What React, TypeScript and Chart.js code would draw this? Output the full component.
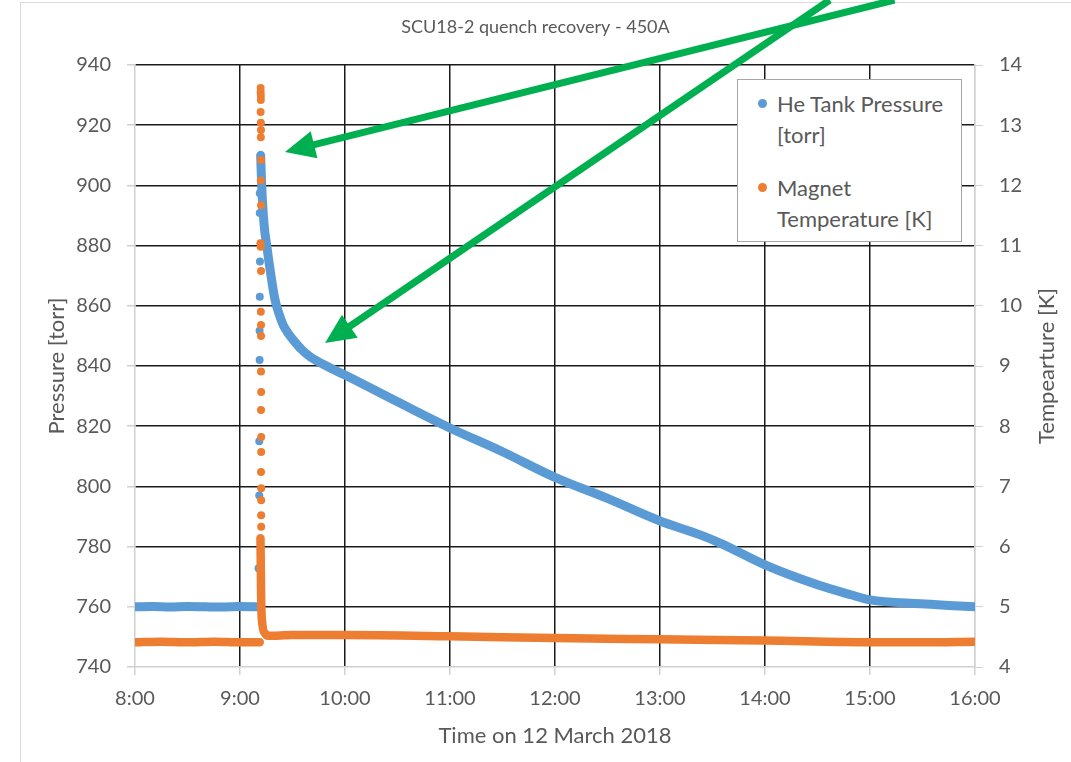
import React, { useEffect, useRef } from "react";
import { Chart, registerables } from "chart.js";

Chart.register(...registerables);

// ---- Data (time in minutes after 8:00) ----
const xTickMinutes = [0, 60, 120, 180, 240, 300, 360, 420, 480];
const xTickLabels = ["8:00", "9:00", "10:00", "11:00", "12:00", "13:00", "14:00", "15:00", "16:00"];

// He tank pressure continuous trace (null = gap between baseline and decay)
const pressureTraceTime = [0, 10, 20, 30, 40, 50, 60, 70.3, 71, 71.8, 72.4, 73.7, 75.3, 77.5, 80, 82.5, 84.7, 87.5, 90.5, 95, 100, 110, 120, 150, 180, 210, 240, 270, 300, 323, 335, 360, 390, 409, 420, 449, 471, 480];
const pressureTraceValue = [760, 760.1, 759.9, 760.1, 760, 759.9, 760.1, 760, null, 910, 900, 887.4, 879.9, 870.8, 862, 857, 853.6, 850.9, 848.6, 845.6, 843.1, 839.8, 837, 828.1, 819.4, 811.5, 803, 796, 788.5, 783.9, 781, 773.9, 767.3, 764, 762.3, 761, 760.3, 760];

// He tank pressure sparse points during the quench rise
const pressureSpikeTime = [70.6, 71.0, 71.0, 71.2, 71.2, 71.3, 71.4, 71.3, 71.3];
const pressureSpikeValue = [772.8, 797, 815, 842, 851.7, 863, 874.7, 890.8, 897.4];

// Magnet temperature continuous trace
const tempTraceTime = [0, 15, 30, 45, 60, 71.3, 71.5, 71.7, 72.1, 72.7, 74.5, 76, 90, 120, 180, 240, 300, 360, 420, 450, 480];
const tempTraceValue = [4.41, 4.42, 4.41, 4.42, 4.41, 4.41, null, 6.14, 5.11, 4.73, 4.55, 4.52, 4.53, 4.53, 4.51, 4.48, 4.46, 4.44, 4.41, 4.41, 4.42];

// Magnet temperature sparse points during the quench
const tempSpikeTime = [71.8, 71.8, 71.9, 71.9, 71.8, 71.9, 72.0, 71.9, 72.0, 71.9, 72.0, 71.7, 71.8, 72.0, 71.9, 72.0, 72.0, 72.0, 72.1, 72.0, 72.1, 72.1, 72.0, 72.1, 72.1, 72.1, 72.1];
const tempSpikeValue = [13.62, 13.55, 13.49, 13.42, 13.22, 13.04, 12.92, 12.8, 12.42, 12.08, 11.67, 11.04, 10.98, 10.58, 9.9, 9.68, 9.5, 8.91, 8.57, 8.27, 7.82, 7.57, 7.24, 6.97, 6.77, 6.52, 6.33];

// Green annotation arrows (data coordinates: minutes, torr)
const arrowTailTime = [434, 397];
const arrowTailPressure = [961.6, 961.6];
const arrowTipTime = [85.7, 108.6];
const arrowTipPressure = [911.1, 847.6];

const rightAxisTitle = "Tempearture [K]";

const BLUE = "#5B9BD5";
const ORANGE = "#ED7D31";
const TEXT = "#595959";
const FONT = "Lato";

const toXY = (t: number[], v: (number | null)[]) => t.map((x, i) => ({ x, y: v[i] }));

const arrowPlugin = {
  id: "arrows",
  afterDatasetsDraw(chart: any) {
    const { ctx, scales } = chart;
    const xs = scales.x;
    const ys = scales.y;
    ctx.save();
    ctx.strokeStyle = "#00B050";
    ctx.fillStyle = "#00B050";
    ctx.lineWidth = 7;
    for (let i = 0; i < arrowTipTime.length; i++) {
      const x0 = xs.getPixelForValue(arrowTailTime[i]);
      const y0 = ys.getPixelForValue(arrowTailPressure[i]);
      const x1 = xs.getPixelForValue(arrowTipTime[i]);
      const y1 = ys.getPixelForValue(arrowTipPressure[i]);
      const dx = x1 - x0;
      const dy = y1 - y0;
      const len = Math.hypot(dx, dy);
      const ux = dx / len;
      const uy = dy / len;
      const headLen = 30;
      const headHalf = 14;
      const bx = x1 - ux * headLen;
      const by = y1 - uy * headLen;
      ctx.beginPath();
      ctx.moveTo(x0, y0);
      ctx.lineTo(bx + ux * 4, by + uy * 4);
      ctx.stroke();
      ctx.beginPath();
      ctx.moveTo(x1, y1);
      ctx.lineTo(bx - uy * headHalf, by + ux * headHalf);
      ctx.lineTo(bx + uy * headHalf, by - ux * headHalf);
      ctx.closePath();
      ctx.fill();
    }
    ctx.restore();
  },
};

// Right axis title reads bottom-to-top like the left one
const rightTitlePlugin = {
  id: "rightTitle",
  afterDraw(chart: any) {
    const { ctx, chartArea } = chart;
    ctx.save();
    ctx.translate(chart.width - 24, (chartArea.top + chartArea.bottom) / 2);
    ctx.rotate(-Math.PI / 2);
    ctx.font = `22px ${FONT}`;
    ctx.fillStyle = TEXT;
    ctx.textAlign = "center";
    ctx.textBaseline = "middle";
    ctx.fillText(rightAxisTitle, 0, 0);
    ctx.restore();
  },
};

export default function App() {
  const canvasRef = useRef<HTMLCanvasElement | null>(null);

  useEffect(() => {
    if (!canvasRef.current) return;
    Chart.defaults.font.family = FONT;
    const chart = new Chart(canvasRef.current, {
      type: "scatter",
      data: {
        datasets: [
          {
            label: "Magnet Temperature [K]",
            data: toXY(tempTraceTime, tempTraceValue),
            yAxisID: "y2",
            showLine: true,
            spanGaps: false,
            borderColor: ORANGE,
            backgroundColor: ORANGE,
            borderWidth: 8.5,
            borderCapStyle: "round",
            borderJoinStyle: "round",
            cubicInterpolationMode: "monotone",
            pointRadius: 0,
            order: 0,
          },
          {
            label: "tempSpike",
            data: toXY(tempSpikeTime, tempSpikeValue),
            yAxisID: "y2",
            showLine: false,
            backgroundColor: ORANGE,
            borderWidth: 0,
            pointRadius: 4,
            order: 0,
          },
          {
            label: "He Tank Pressure [torr]",
            data: toXY(pressureTraceTime, pressureTraceValue),
            yAxisID: "y",
            showLine: true,
            spanGaps: false,
            borderColor: BLUE,
            backgroundColor: BLUE,
            borderWidth: 9,
            borderCapStyle: "round",
            borderJoinStyle: "round",
            cubicInterpolationMode: "monotone",
            pointRadius: 0,
            order: 1,
          },
          {
            label: "pressureSpike",
            data: toXY(pressureSpikeTime, pressureSpikeValue),
            yAxisID: "y",
            showLine: false,
            backgroundColor: BLUE,
            borderWidth: 0,
            pointRadius: 4,
            order: 1,
          },
        ],
      },
      options: {
        responsive: false,
        animation: false,
        layout: { padding: 0 },
        plugins: {
          legend: { display: false },
          tooltip: { enabled: false },
          title: {
            display: true,
            text: "SCU18-2 quench recovery - 450A",
            color: TEXT,
            font: { family: FONT, size: 18, weight: "normal" },
            padding: { top: 16, bottom: 27.4 },
          },
        },
        scales: {
          x: {
            type: "linear",
            min: 0,
            max: 480,
            afterBuildTicks: (s: any) => {
              s.ticks = xTickMinutes.map((v) => ({ value: v }));
            },
            afterFit: (s: any) => {
              s.height = 95;
            },
            ticks: {
              callback: (v: any) => xTickLabels[xTickMinutes.indexOf(Number(v))],
              color: TEXT,
              font: { size: 20 },
              padding: 12,
              maxRotation: 0,
            },
            grid: {
              color: (c: any) =>
                c.tick && c.tick.value === 0 ? "rgba(0,0,0,0)" : c.tick && c.tick.value === 480 ? "#d9d9d9" : "#1a1a1a",
              lineWidth: 1.5,
              tickColor: "#d0d0d0",
              tickLength: 8,
            },
            border: { color: "#d0d0d0", width: 1.5 },
            title: {
              display: true,
              text: "Time on 12 March 2018",
              color: TEXT,
              font: { size: 22 },
              padding: { top: 0, bottom: 13 },
            },
          },
          y: {
            type: "linear",
            position: "left",
            min: 740,
            max: 940,
            ticks: { stepSize: 20, color: TEXT, font: { size: 20 }, padding: 16 },
            afterFit: (s: any) => {
              s.width = 135;
            },
            grid: {
              color: (c: any) => (c.tick && c.tick.value === 740 ? "rgba(0,0,0,0)" : "#1a1a1a"),
              lineWidth: 1.5,
              tickColor: "#d0d0d0",
              tickLength: 8,
            },
            border: { color: "#d0d0d0", width: 1.5 },
            title: {
              display: true,
              text: "Pressure [torr]",
              color: TEXT,
              font: { size: 22 },
              padding: { top: 44, bottom: 0 },
            },
          },
          y2: {
            type: "linear",
            position: "right",
            min: 4,
            max: 14,
            ticks: { stepSize: 1, color: TEXT, font: { size: 20 }, padding: 16 },
            afterFit: (s: any) => {
              s.width = 96;
            },
            grid: {
              drawOnChartArea: false,
              tickColor: "#d0d0d0",
              tickLength: 8,
            },
            border: { color: "#d0d0d0", width: 1.5 },
            title: { display: false },
          },
        },
      },
      plugins: [arrowPlugin, rightTitlePlugin],
    } as any);
    return () => chart.destroy();
  }, []);

  const legendText: React.CSSProperties = {
    position: "absolute",
    left: 39,
    fontFamily: FONT,
    fontSize: 22,
    lineHeight: "31px",
    color: TEXT,
    whiteSpace: "nowrap",
  };
  const dot = (color: string, top: number): React.CSSProperties => ({
    position: "absolute",
    left: 20,
    top,
    width: 9,
    height: 9,
    borderRadius: "50%",
    background: color,
  });

  return (
    <div
      style={{
        position: "fixed",
        left: 0,
        top: 0,
        width: 1071,
        height: 762,
        overflow: "hidden",
        background: "#ffffff",
      }}
    >
      <div
        style={{
          position: "absolute",
          left: 20,
          top: 2,
          width: 1200,
          height: 900,
          border: "1px solid #d9d9d9",
        }}
      />
      <canvas ref={canvasRef} width={1071} height={762} style={{ position: "absolute", left: 0, top: 0 }} />
      <div
        style={{
          position: "absolute",
          left: 737,
          top: 79,
          width: 225,
          height: 163,
          boxSizing: "border-box",
          border: "1px solid #a6a6a6",
          background: "#ffffff",
        }}
      >
        <div style={dot(BLUE, 18.5)} />
        <div style={{ ...legendText, top: 8 }}>
          He Tank Pressure
          <br />
          [torr]
        </div>
        <div style={dot(ORANGE, 102.5)} />
        <div style={{ ...legendText, top: 92 }}>
          Magnet
          <br />
          Temperature [K]
        </div>
      </div>
    </div>
  );
}
